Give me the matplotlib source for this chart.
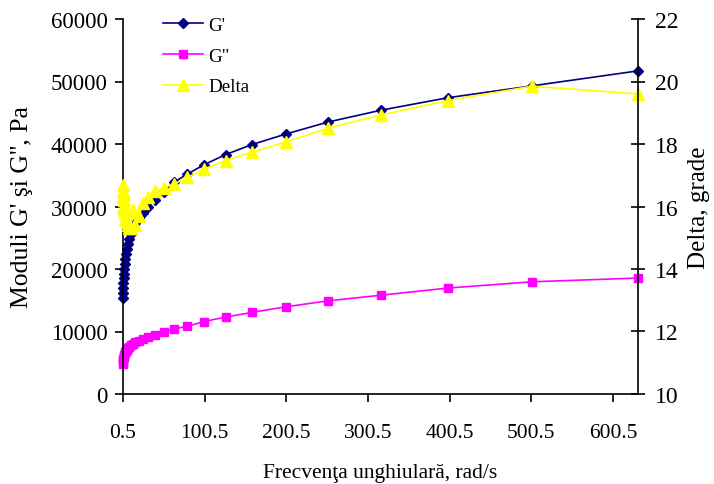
import matplotlib
matplotlib.use("Agg")
import matplotlib.pyplot as plt

plt.rcParams['font.family'] = ['Liberation Serif', 'DejaVu Serif']

freq = [0.501, 0.631, 0.794, 1.0, 1.26, 1.58, 2.0, 2.51, 3.16, 3.98, 5.01, 6.31, 7.94,
        10.0, 12.6, 15.8, 20.0, 25.1, 31.6, 39.8, 50.1, 63.1, 79.4, 100.0, 126.0, 158.0,
        200.0, 251.0, 316.0, 398.0, 501.0, 631.0]

g_storage = [15400, 16200, 17000, 17800, 18500, 19200, 20000, 20800, 21600, 22400, 23200,
             24000, 24800, 25600, 26400, 27300, 28100, 28900, 30000, 31100, 32400, 33900,
             35200, 36700, 38300, 39900, 41600, 43500, 45400, 47400, 49300, 51700]

g_loss = [4800, 5100, 5400, 5650, 5900, 6100, 6300, 6500, 6700, 6900, 7100, 7300, 7500,
          7800, 8000, 8300, 8500, 8800, 9150, 9500, 9950, 10400, 10850, 11600, 12300,
          13050, 13950, 14900, 15800, 16950, 17950, 18550]

delta = [16.7, 16.5, 16.3, 16.0, 16.4, 15.9, 16.2, 15.8, 15.6, 15.9, 15.5, 15.4, 15.3,
         15.3, 15.9, 15.4, 15.7, 16.1, 16.3, 16.5, 16.6, 16.72, 16.93, 17.2, 17.47, 17.73,
         18.07, 18.5, 18.93, 19.39, 19.85, 19.6]

x_ticks = [0.5, 100.5, 200.5, 300.5, 400.5, 500.5, 600.5]
x_tick_labels = ["0.5", "100.5", "200.5", "300.5", "400.5", "500.5", "600.5"]
left_ticks = [0, 10000, 20000, 30000, 40000, 50000, 60000]
right_ticks = [10, 12, 14, 16, 18, 20, 22]

W, H = 714, 485
fig = plt.figure(figsize=(W/100, H/100), dpi=100)
ax = fig.add_axes([123/W, 1 - 395/H, (638 - 123)/W, (395 - 20)/H])
ax2 = ax.twinx()

l1, = ax.plot(freq, g_storage, color='#000080', marker='D', ms=5, lw=1.2, label="G'",
              clip_on=False)
l2, = ax.plot(freq, g_loss, color='#FF00FF', marker='s', ms=6, lw=1.2, label='G"',
              clip_on=False)
l3, = ax2.plot(freq, delta, color='#FFFF00', marker='^', ms=8, lw=1.2, label='Delta',
               clip_on=False)

ax.set_xlim(0.5, 631)
ax.set_ylim(0, 60000)
ax2.set_ylim(10, 22)
ax.set_xticks(x_ticks)
ax.set_xticklabels(x_tick_labels)
ax.set_yticks(left_ticks)
ax.set_yticklabels([str(v) for v in left_ticks])
ax2.set_yticks(right_ticks)
ax2.set_yticklabels([str(v) for v in right_ticks])

for a in (ax, ax2):
    a.spines['top'].set_visible(False)
    for s in a.spines.values():
        s.set_linewidth(1.2)
ax.spines['right'].set_visible(False)
ax2.spines['left'].set_visible(False)
ax2.spines['bottom'].set_visible(False)

ax.tick_params(axis='x', direction='out', length=6, width=1.2, labelsize=15.5, pad=15)
ax.tick_params(axis='y', direction='out', length=6, width=1.2, labelsize=16.5, pad=5)
ax2.tick_params(axis='y', direction='inout', length=10, width=1.2, labelsize=17, pad=7)

ax.set_xlabel('Frecvenţa unghiulară, rad/s', fontsize=15.5, labelpad=15)
ax.set_ylabel("Moduli G' şi G'', Pa", fontsize=18.5, labelpad=13)
ax2.set_ylabel('Delta, grade', fontsize=18, labelpad=7)

ax.legend(handles=[l1, l2, l3], loc='upper left',
          bbox_to_anchor=(155/W, 1 - 10/H), bbox_transform=fig.transFigure,
          borderaxespad=0, frameon=False, fontsize=13.7, handlelength=2.1,
          handletextpad=0.3, labelspacing=0.7)

fig.savefig('out.png', dpi=100)
